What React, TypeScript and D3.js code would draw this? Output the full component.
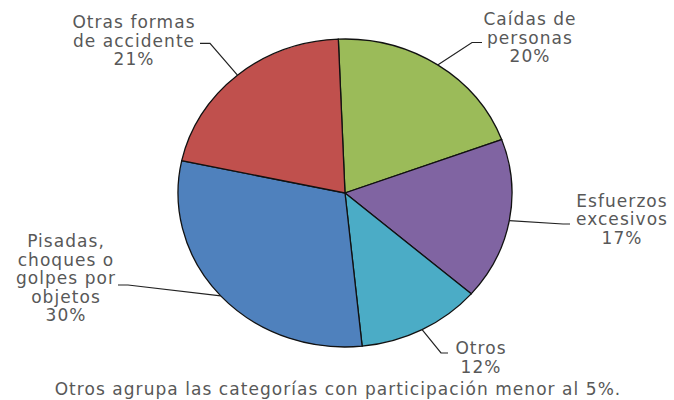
import React from "react";
import * as d3 from "d3";

const categories = [
  "Caídas de personas",
  "Esfuerzos excesivos",
  "Otros",
  "Pisadas, choques o golpes por objetos",
  "Otras formas de accidente",
];
const values = [20, 17, 12, 30, 21];
const labelLines = [
  ["Caídas de", "personas", "20%"],
  ["Esfuerzos", "excesivos", "17%"],
  ["Otros", "12%"],
  ["Pisadas,", "choques o", "golpes por", "objetos", "30%"],
  ["Otras formas", "de accidente", "21%"],
];
const colors = ["#9BBB59", "#8064A2", "#4BACC6", "#4F81BD", "#C0504D"];
const footnote = "Otros agrupa las categorías con participación menor al 5%.";

// layout (positions only)
const W = 674, H = 400;
const cx = 345, cy = 193, rx = 167, ry = 154;
const labelLayout = [
  { elbow: [472, 42.5], end: [482, 42.5], tx: 530, ty: 25 },
  { elbow: [563, 224], end: [570, 224], tx: 622, ty: 206.5 },
  { elbow: [441, 353], end: [448, 353], tx: 481, ty: 354 },
  { elbow: [128, 285], end: [118, 285], tx: 66, ty: 247 },
  { elbow: [210, 43.3], end: [200, 43.3], tx: 134, ty: 28 },
];

const font = "'DejaVu Sans', sans-serif";
const fontSize = 17;
const letterSpacing = 1.05;
const textColor = "#585858";

export default function App() {
  const pie = d3
    .pie<number>()
    .sort(null)
    .startAngle(-0.04)
    .endAngle(-0.04 + 2 * Math.PI);
  const arcs = pie(values);
  const arc = d3.arc<d3.PieArcDatum<number>>().innerRadius(0).outerRadius(rx);
  const sy = ry / rx;
  const lh = 18.6;

  return (
    <svg width={W} height={H} style={{ position: "absolute", left: 0, top: 0 }}>
      <rect width={W} height={H} fill="#fff" />
      <g transform={`translate(${cx},${cy}) scale(1,${sy})`}>
        {arcs.map((a, i) => (
          <path
            key={i}
            d={arc(a) || ""}
            fill={colors[i]}
            stroke="#111"
            strokeWidth={1.3}
            vectorEffect="non-scaling-stroke"
          />
        ))}
      </g>
      {arcs.map((a, i) => {
        const mid = (a.startAngle + a.endAngle) / 2;
        const sx0 = cx + rx * Math.sin(mid);
        const sy0 = cy - ry * Math.cos(mid);
        const L = labelLayout[i];
        return (
          <g key={"l" + i}>
            <polyline
              points={`${sx0},${sy0} ${L.elbow[0]},${L.elbow[1]} ${L.end[0]},${L.end[1]}`}
              fill="none"
              stroke="#222"
              strokeWidth={1.2}
            />
            <text
              x={L.tx}
              y={L.ty}
              textAnchor="middle"
              fontFamily={font}
              fontSize={fontSize}
              letterSpacing={letterSpacing}
              fill={textColor}
            >
              {labelLines[i].map((t, j) => (
                <tspan key={j} x={L.tx} y={L.ty + j * lh}>
                  {t}
                </tspan>
              ))}
            </text>
          </g>
        );
      })}
      <text
        x={338}
        y={395}
        textAnchor="middle"
        fontFamily={font}
        fontSize={fontSize}
        letterSpacing={letterSpacing}
        fill={textColor}
      >
        {footnote}
      </text>
    </svg>
  );
}
